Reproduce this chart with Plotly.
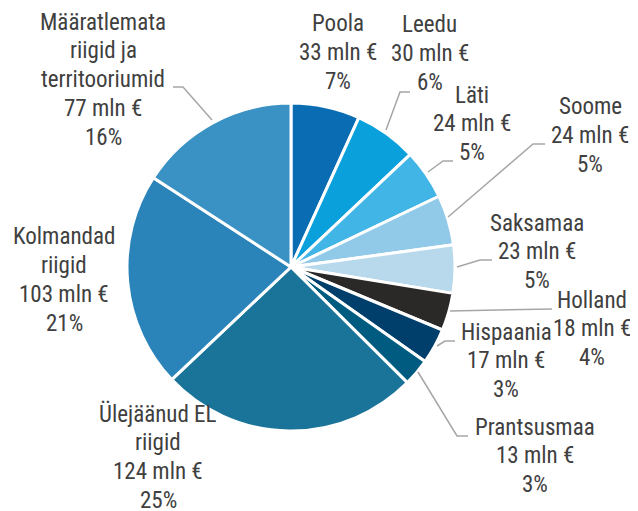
import plotly.graph_objects as go

# page body has an 8px margin, so the figure is drawn 8px smaller and offset
OFF = 8
W, H = 638 - OFF, 511 - OFF

categories = ["Poola", "Leedu", "Läti", "Soome", "Saksamaa", "Holland", "Hispaania",
              "Prantsusmaa", "Ülejäänud EL<br>riigid", "Kolmandad<br>riigid",
              "Määratlemata<br>riigid ja<br>territooriumid"]
values = [33, 30, 24, 24, 23, 18, 17, 13, 124, 103, 77]
percent_labels = ["7%", "6%", "5%", "5%", "5%", "4%", "3%", "3%", "25%", "21%", "16%"]
colors = ["#0A6DB3", "#0AA0DC", "#41B5E6", "#91C9E8", "#B8D9EC", "#2A2927",
          "#003F6B", "#005B80", "#1A7399", "#2A84BA", "#3A92C4"]

# label centre x and first-line y (page pixels), and leader lines (page pixels)
label_pos = [(338, 24), (430, 25), (472, 95), (590, 107), (537, 223), (592, 300),
             (506, 332), (535, 427), (158, 414), (64, 237), (103, 22)]
leaders = [None,
           [(410, 92), (400, 92), (386, 130)],
           [(453, 161), (443, 161), (428, 172)],
           [(545, 144), (533, 144), (448, 217)],
           [(492, 260), (480, 260), (457, 267)],
           [(552, 309), (450, 311)],
           [(455, 341), (445, 341), (437, 346)],
           [(468, 436), (457, 436), (418, 372)],
           None, None,
           [(173, 87), (183, 87), (212, 120)]]
LINE = 28.8

cx, cy, r = 291, 267, 164

def px(x):
    return (x - OFF) / W

def py(y):
    return 1 - (y - OFF) / H

fig = go.Figure(go.Pie(
    labels=categories, values=values, sort=False, direction="clockwise", rotation=0,
    marker=dict(colors=colors, line=dict(color="white", width=3)),
    textinfo="none", hoverinfo="skip", showlegend=False,
    domain=dict(x=[px(cx - r), px(cx + r)], y=[py(cy + r), py(cy - r)]),
))

font = dict(family="Roboto Condensed, Liberation Sans Narrow, Roboto, sans-serif", size=23, color="#404040")
annotations = []
for cat, v, p, (lx, ly) in zip(categories, values, percent_labels, label_pos):
    lines = cat.split("<br>") + [f"{v} mln €", p]
    for i, t in enumerate(lines):
        annotations.append(dict(
            x=px(lx), y=py(ly + i * LINE), xref="paper", yref="paper",
            text=t, showarrow=False, xanchor="center", yanchor="middle",
            align="center", font=font))

shapes = []
for ld in leaders:
    if ld is None:
        continue
    path = "M " + " L ".join(f"{px(x)},{py(y)}" for x, y in ld)
    shapes.append(dict(type="path", xref="paper", yref="paper", path=path,
                       line=dict(color="#A6A6A6", width=1.5)))

fig.update_layout(width=W, height=H, margin=dict(l=0, r=0, t=0, b=0),
                  paper_bgcolor="white", plot_bgcolor="white",
                  annotations=annotations, shapes=shapes)

fig.write_html("out.html")
